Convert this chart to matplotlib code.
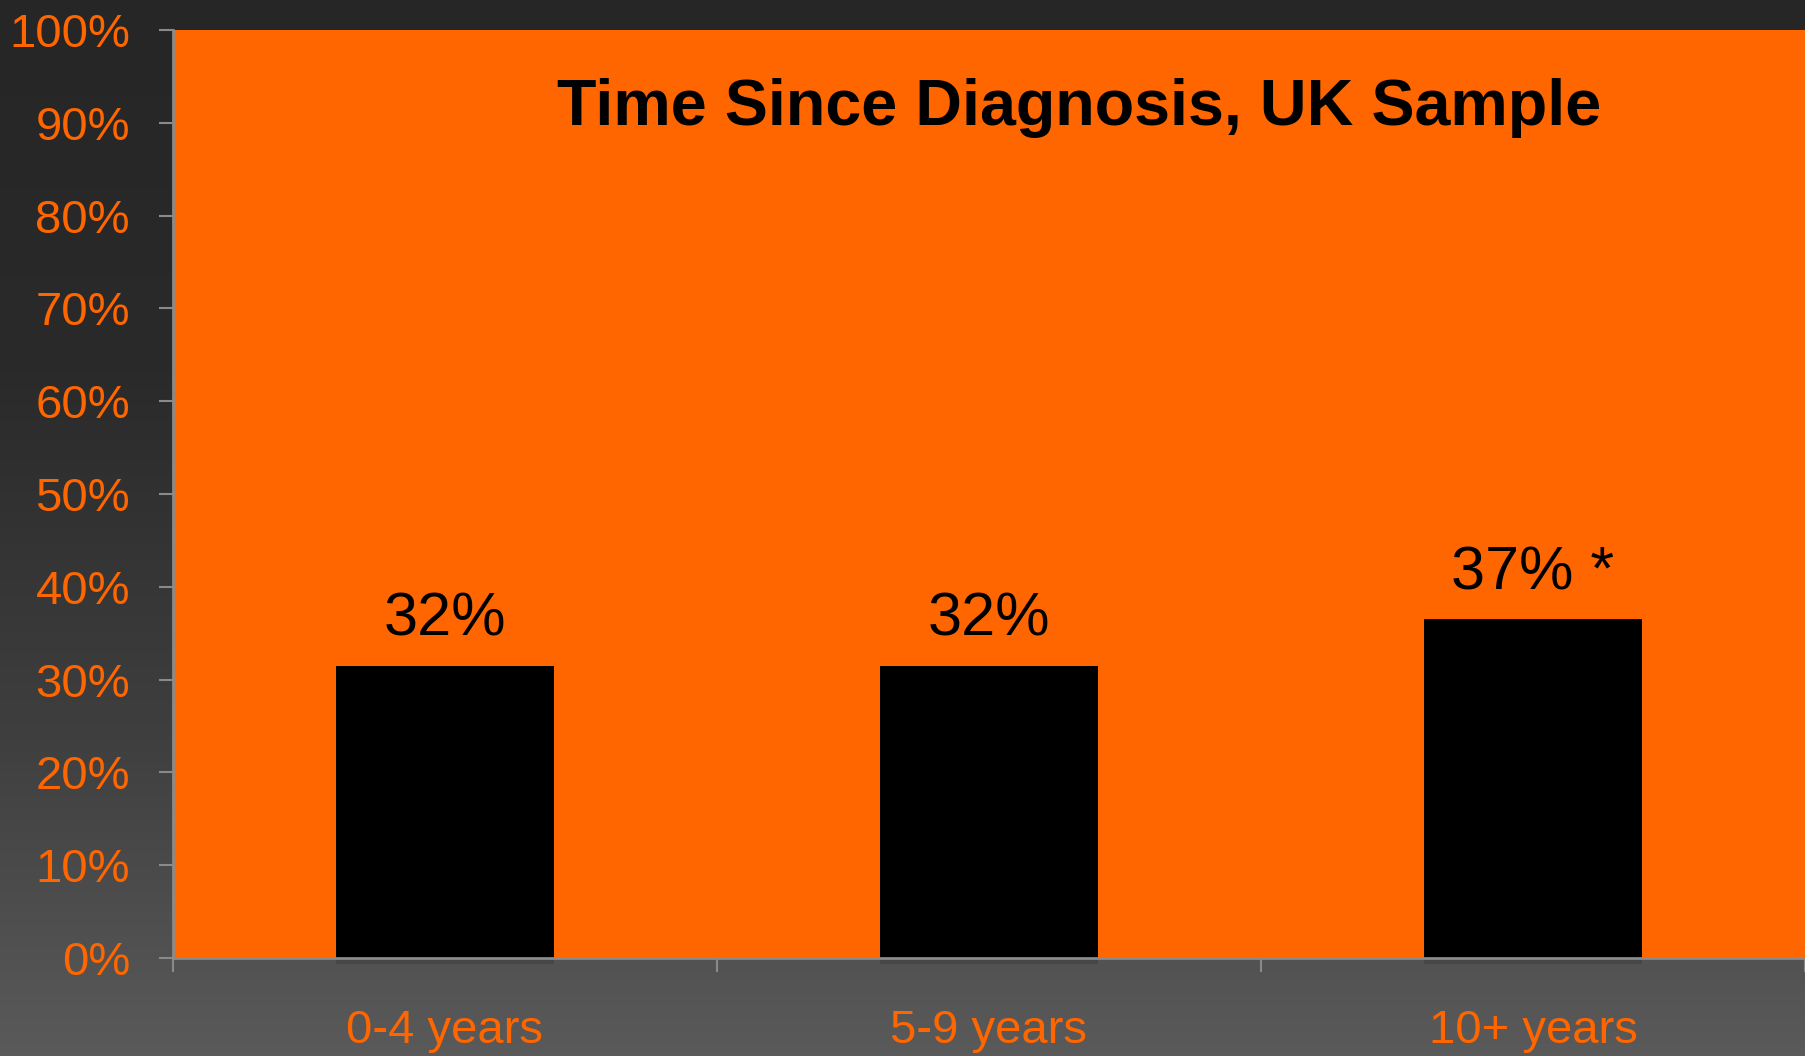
"""Time since diagnosis, UK sample - bar chart."""
import numpy as np
import matplotlib
matplotlib.use("Agg")
import matplotlib.pyplot as plt
from matplotlib.colors import LinearSegmentedColormap

plt.rcParams["font.family"] = ["Liberation Sans", "DejaVu Sans"]

# data
categories = ["0-4 years", "5-9 years", "10+ years"]
values = [31.5, 31.5, 36.5]
value_labels = ["32%", "32%", "37% *"]
yticks = [0, 10, 20, 30, 40, 50, 60, 70, 80, 90, 100]
title = "Time Since Diagnosis, UK Sample"

orange = "#FF6600"
axis_gray = "#8a8a8a"

W, H = 1805, 1056
fig = plt.figure(figsize=(W / 100, H / 100), dpi=100)

# dark gradient background
bg = fig.add_axes([0, 0, 1, 1], zorder=-10)
cmap = LinearSegmentedColormap.from_list(
    "bg", [(0.0, "#262626"), (0.35, "#2a2a2a"), (0.7, "#3f3f3f"), (1.0, "#5a5a5a")])
grad = np.linspace(0, 1, 256).reshape(-1, 1)
bg.imshow(grad, aspect="auto", cmap=cmap, extent=[0, 1, 1, 0])
bg.set_axis_off()

left, right, top, bottom = 173, 1805, 30, 958
ax = fig.add_axes([left / W, 1 - bottom / H, (right - left) / W, (bottom - top) / H])
ax.set_facecolor(orange)

x = np.arange(len(categories))
# faint drop shadow just under each bar
ax.bar(x, [-0.7] * len(x), width=0.40, color="#3a3a3a", alpha=0.45,
       zorder=2, clip_on=False)
ax.bar(x, values, width=0.40, color="black", zorder=3)
for xi, v, lbl in zip(x, values, value_labels):
    ax.text(xi, v + 3.2, lbl, ha="center", va="baseline", fontsize=44, color="black")

ax.set_xlim(-0.5, len(categories) - 0.5)
ax.set_ylim(0, 100)
ax.set_yticks(yticks)
ax.set_yticklabels([f"{t}%" for t in yticks])
ax.set_xticks(x)
ax.set_xticklabels(categories)
ax.set_xticks(np.arange(len(categories) + 1) - 0.5, minor=True)

for s in ["top", "right"]:
    ax.spines[s].set_visible(False)
for s in ["left", "bottom"]:
    ax.spines[s].set_color(axis_gray)
    ax.spines[s].set_linewidth(2)
    ax.spines[s].set_zorder(4)

ax.tick_params(axis="y", direction="out", length=10, width=1.5, color=axis_gray,
               labelcolor=orange, labelsize=34, pad=21)
ax.tick_params(axis="x", which="major", length=0, labelcolor=orange,
               labelsize=34, pad=37)
ax.tick_params(axis="x", which="minor", direction="out", length=10, width=1.5,
               color=axis_gray)

fig.text(1079 / W, 1 - 125 / H, title, ha="center", va="baseline",
         fontsize=46.5, fontweight="bold", color="black")

fig.savefig("out.png", dpi=100)
plt.close("all")
